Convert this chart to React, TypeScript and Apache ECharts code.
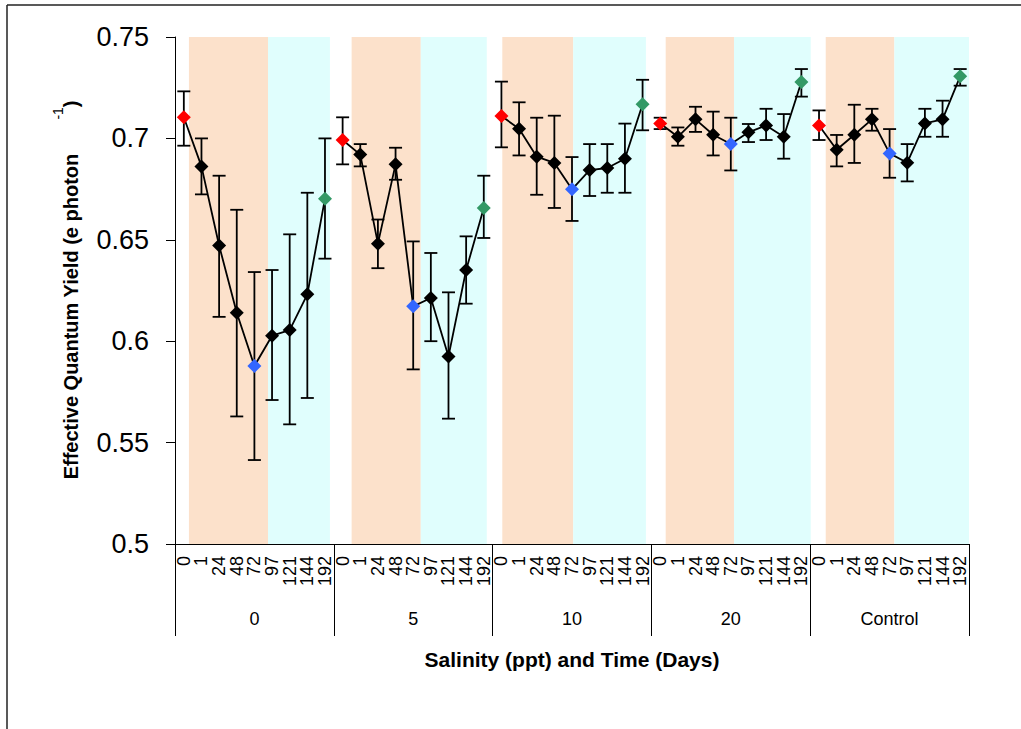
import React, { useEffect, useRef } from "react";
import * as echarts from "echarts";

const groups = ["0", "5", "10", "20", "Control"];
const times = ["0", "1", "24", "48", "72", "97", "121", "144", "192"];

// mean values per salinity group (9 time points each)
const means: number[][] = [
  [0.7104, 0.6862, 0.6472, 0.614, 0.5878, 0.6027, 0.6055, 0.6231, 0.6703],
  [0.6992, 0.692, 0.6481, 0.6872, 0.6172, 0.6213, 0.5925, 0.6351, 0.6657],
  [0.711, 0.7048, 0.691, 0.6879, 0.6749, 0.6844, 0.6854, 0.69, 0.7168],
  [0.7073, 0.7008, 0.7094, 0.7018, 0.6972, 0.703, 0.7064, 0.7008, 0.7278],
  [0.7064, 0.6944, 0.7018, 0.7094, 0.6926, 0.688, 0.7074, 0.7094, 0.7306],
];
const upper: number[][] = [
  [0.7232, 0.7, 0.6816, 0.6648, 0.6341, 0.6351, 0.6527, 0.6732, 0.7],
  [0.7104, 0.6972, 0.66, 0.6954, 0.6492, 0.6435, 0.6241, 0.6517, 0.6816],
  [0.728, 0.7178, 0.7102, 0.7112, 0.6908, 0.6972, 0.6972, 0.7073, 0.7289],
  [0.7102, 0.7054, 0.7156, 0.7132, 0.7102, 0.7071, 0.7146, 0.712, 0.7342],
  [0.7138, 0.7017, 0.7166, 0.7146, 0.7046, 0.6972, 0.7146, 0.7186, 0.7342],
];
const lower: number[][] = [
  [0.6964, 0.6724, 0.612, 0.5629, 0.5414, 0.571, 0.559, 0.572, 0.6407],
  [0.6872, 0.6862, 0.636, 0.6796, 0.5861, 0.6, 0.5618, 0.6185, 0.6509],
  [0.6956, 0.6916, 0.6722, 0.6657, 0.6593, 0.6716, 0.6732, 0.6732, 0.704],
  [0.7046, 0.6964, 0.7032, 0.6916, 0.6842, 0.6982, 0.6992, 0.69, 0.7206],
  [0.6992, 0.6862, 0.6879, 0.7038, 0.6806, 0.6788, 0.7008, 0.7008, 0.726],
];

// shaded background bands (in category-slot units along the x axis)
const orangeStart = [0.79, 10.01, 18.55, 27.81, 36.88];
const bandSplit = [5.27, 13.93, 22.57, 31.68, 40.77];
const cyanEnd = [8.78, 17.67, 26.69, 36.03, 45.0];

const pointColors = ["#FF0000", "#000000", "#000000", "#000000", "#3366FF", "#000000", "#000000", "#000000", "#339966"];

const yTicks = { min: 0.5, max: 0.75, interval: 0.05 };

export default function App() {
  const ref = useRef<HTMLDivElement>(null);
  useEffect(() => {
    if (!ref.current) return;
    const chart = echarts.init(ref.current, undefined, { renderer: "svg" });
    const cats: string[] = [];
    groups.forEach(() => times.forEach((t) => cats.push(t)));
    const n = cats.length;

    const lineSeries: any[] = groups.map((g, gi) => {
      const data: any[] = new Array(n).fill("-");
      means[gi].forEach((v, i) => {
        data[gi * times.length + i] = { value: v, itemStyle: { color: pointColors[i] } };
      });
      return {
        type: "line",
        name: g,
        data,
        xAxisIndex: 0,
        yAxisIndex: 0,
        symbol: "diamond",
        symbolSize: 14,
        lineStyle: { color: "#000", width: 1.8 },
        itemStyle: { color: "#000" },
        z: 4,
        connectNulls: false,
      };
    });

    const errData: number[][] = [];
    groups.forEach((g, gi) => {
      times.forEach((t, i) => {
        errData.push([gi * times.length + i, lower[gi][i], upper[gi][i]]);
      });
    });

    const bandAreas: any[] = [];
    orangeStart.forEach((s, i) => {
      bandAreas.push([{ xAxis: s, itemStyle: { color: "#FCE1CB" } }, { xAxis: bandSplit[i] }]);
      bandAreas.push([{ xAxis: bandSplit[i], itemStyle: { color: "#E0FEFD" } }, { xAxis: cyanEnd[i] }]);
    });

    const option: any = {
      animation: false,
      backgroundColor: "#fff",
      grid: { left: 175, right: 52, top: 37, bottom: 185, containLabel: false },
      xAxis: [
        {
          type: "category",
          data: cats,
          boundaryGap: true,
          axisLine: { show: true, lineStyle: { color: "#000", width: 1 } },
          axisTick: { show: false },
          axisLabel: {
            interval: 0,
            rotate: 90,
            margin: 12,
            fontSize: 18,
            fontFamily: "Arial, Liberation Sans",
            color: "#000",
          },
          splitLine: { show: false },
        },
        {
          type: "category",
          data: groups,
          position: "bottom",
          boundaryGap: true,
          axisLine: { show: false },
          axisTick: { show: true, length: 92, inside: false, interval: 0, lineStyle: { color: "#000", width: 1 } },
          axisLabel: {
            interval: 0,
            margin: 66,
            fontSize: 18,
            fontFamily: "Arial, Liberation Sans",
            color: "#000",
          },
          splitLine: { show: false },
        },
        { type: "value", min: 0, max: n, show: false },
      ],
      yAxis: {
        type: "value",
        min: yTicks.min,
        max: yTicks.max,
        interval: yTicks.interval,
        axisLine: { show: true, lineStyle: { color: "#000", width: 1 } },
        axisTick: { show: true, length: 9, inside: false, lineStyle: { color: "#000" } },
        axisLabel: {
          margin: 26,
          fontSize: 27,
          fontFamily: "Arial, Liberation Sans",
          color: "#000",
          formatter: (v: number) => String(+v.toFixed(2)),
        },
        splitLine: { show: false },
      },
      series: [
        {
          type: "line",
          xAxisIndex: 2,
          yAxisIndex: 0,
          data: [],
          silent: true,
          z: 0,
          markArea: { silent: true, data: bandAreas },
        },
        {
          type: "custom",
          xAxisIndex: 0,
          yAxisIndex: 0,
          data: errData,
          z: 3,
          renderItem: (params: any, api: any) => {
            const x = api.value(0);
            const lo = api.coord([x, api.value(1)]);
            const hi = api.coord([x, api.value(2)]);
            const hw = 6.5;
            const st = { stroke: "#000", lineWidth: 1.8 };
            return {
              type: "group",
              children: [
                { type: "line", shape: { x1: lo[0], y1: lo[1], x2: hi[0], y2: hi[1] }, style: st },
                { type: "line", shape: { x1: lo[0] - hw, y1: lo[1], x2: lo[0] + hw, y2: lo[1] }, style: st },
                { type: "line", shape: { x1: hi[0] - hw, y1: hi[1], x2: hi[0] + hw, y2: hi[1] }, style: st },
              ],
            };
          },
        },
        ...lineSeries,
      ],
      graphic: [
        { type: "line", shape: { x1: 7, y1: 5, x2: 1021, y2: 5 }, style: { stroke: "#222", lineWidth: 1.5 } },
        { type: "line", shape: { x1: 7, y1: 5, x2: 7, y2: 729 }, style: { stroke: "#222", lineWidth: 1.5 } },
        {
          type: "text",
          x: 66,
          y: 290,
          rotation: Math.PI / 2,
          style: {
            text: "{m|Effective Quantum Yield (e photon}{g| }{s|-1}{m|)}",
            align: "center",
            verticalAlign: "middle",
            fill: "#000",
            rich: {
              m: { fontSize: 20, fontWeight: "bold", fontFamily: "Arial, Liberation Sans", lineHeight: 30, verticalAlign: "bottom" },
              g: { fontSize: 20, width: 34 },
              s: { fontSize: 14, fontFamily: "Arial, Liberation Sans", lineHeight: 14, verticalAlign: "top" },
            },
          },
        },
        {
          type: "text",
          x: 572,
          y: 659,
          style: {
            text: "Salinity (ppt) and Time (Days)",
            align: "center",
            verticalAlign: "middle",
            fill: "#000",
            font: "bold 21px Arial, Liberation Sans",
          },
        },
      ],
    };
    chart.setOption(option);
    return () => chart.dispose();
  }, []);
  return (
    <div
      ref={ref}
      style={{ position: "fixed", left: 0, top: 0, width: 1021, height: 729, background: "#fff" }}
    />
  );
}
